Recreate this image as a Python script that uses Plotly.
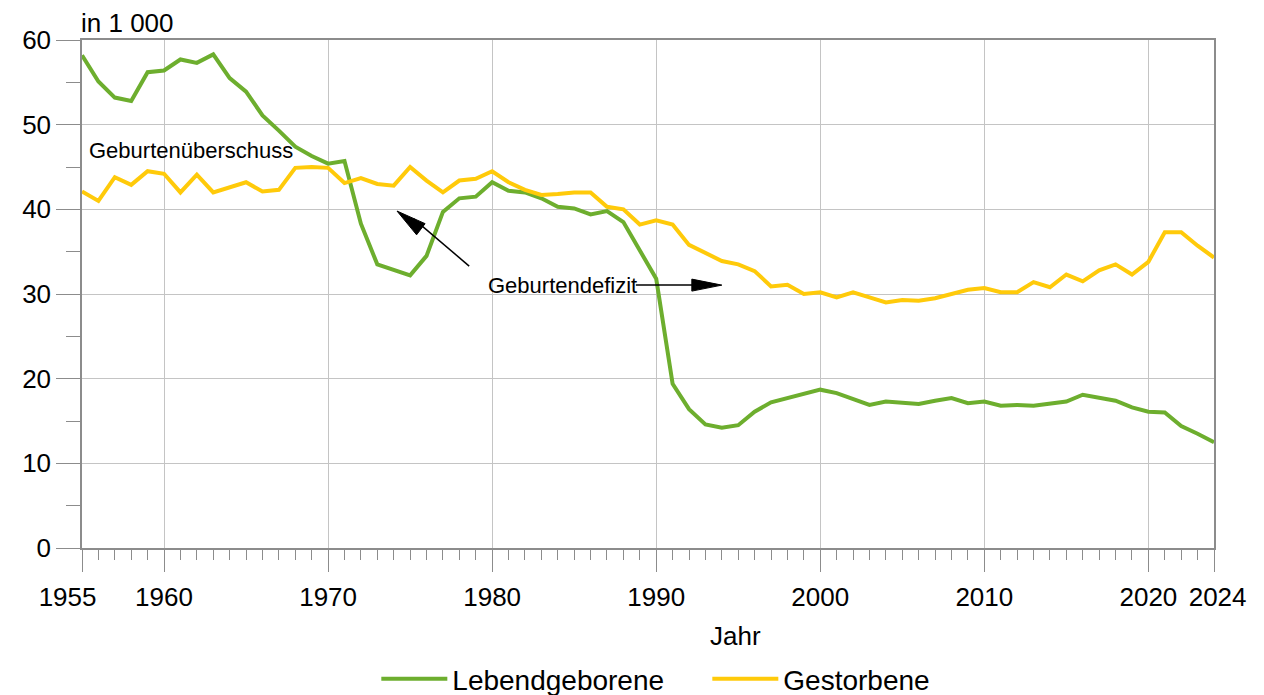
import plotly.graph_objects as go

years = list(range(1955, 2025))

lebendgeborene = [
    58.2, 55.1, 53.2, 52.8, 56.2, 56.4, 57.7, 57.3, 58.3, 55.5,
    53.9, 51.1, 49.3, 47.4, 46.3, 45.4, 45.7, 38.3, 33.5, 32.8,
    32.2, 34.5, 39.7, 41.3, 41.5, 43.2, 42.2, 42.0, 41.3, 40.3,
    40.1, 39.4, 39.8, 38.5, 35.2, 31.8, 19.4, 16.4, 14.6, 14.2,
    14.5, 16.1, 17.2, 17.7, 18.3, 18.7, 18.3, 17.6, 16.9, 17.3,
    17.2, 17.0, 17.4, 17.7, 17.1, 17.3, 16.8, 16.9, 16.8, 17.0,
    17.3, 18.1, 17.8, 17.4, 16.6, 16.1, 16.0, 14.4, 13.5, 12.5,
]

gestorbene = [
    42.1, 41.0, 43.8, 42.9, 44.5, 44.2, 42.0, 44.1, 42.0, 42.6,
    43.2, 42.1, 42.3, 44.9, 45.0, 44.9, 43.1, 43.7, 43.0, 42.8,
    45.0, 43.4, 42.0, 43.4, 43.6, 44.5, 43.2, 42.3, 41.7, 41.8,
    42.0, 42.0, 40.3, 40.0, 38.2, 38.7, 38.2, 35.8, 34.8, 33.9,
    33.5, 32.7, 30.9, 31.1, 30.0, 30.2, 29.6, 30.2, 29.6, 29.0,
    29.3, 29.2, 29.5, 30.0, 30.5, 30.7, 30.2, 30.2, 31.4, 30.8,
    32.3, 31.5, 32.8, 33.5, 32.3, 33.8, 37.3, 37.3, 35.7, 34.3,
]

x_tick_values = [1955, 1960, 1970, 1980, 1990, 2000, 2010, 2020, 2024]
x_tick_labels = ["1955\u2007\u2007", "1960", "1970", "1980", "1990", "2000", "2010",
                 "2020", "\u20082024"]
y_tick_values = [0, 10, 20, 30, 40, 50, 60]

FONT = "Liberation Sans, Arial, sans-serif"
GREEN = "#6DAE2E"
YELLOW = "#FFCA0A"
AXIS = "#8C8C8C"
GRID = "#C4C4C4"

fig = go.Figure()
fig.add_trace(go.Scatter(x=years, y=lebendgeborene, mode="lines", name="Lebendgeborene",
                         line=dict(color=GREEN, width=4)))
fig.add_trace(go.Scatter(x=years, y=gestorbene, mode="lines", name="Gestorbene",
                         line=dict(color=YELLOW, width=4)))

fig.update_layout(
    width=1256, height=687,
    margin=dict(l=74, r=50, t=32, b=147, autoexpand=False),
    paper_bgcolor="white", plot_bgcolor="white",
    font=dict(family=FONT, color="black", size=20),
    showlegend=True,
    legend=dict(orientation="h", x=0.26, xanchor="left", y=-0.258, yanchor="middle",
                font=dict(size=28, family=FONT), itemwidth=66,
                entrywidth=250, entrywidthmode="pixels", traceorder="normal"),
)

fig.update_xaxes(
    range=[1955, 2024], tickmode="array", tickvals=x_tick_values,
    ticktext=x_tick_labels, tickangle=0,
    ticks="outside", ticklen=22, tickcolor=AXIS, tickwidth=1.3,
    ticklabelstandoff=3,
    tickfont=dict(size=26, family=FONT, color="black"),
    showgrid=True, gridcolor=GRID, gridwidth=1.3,
    showline=True, linecolor=AXIS, linewidth=1.5, mirror=True,
    zeroline=False,
    minor=dict(tickmode="linear", tick0=1955, dtick=1, ticks="outside", ticklen=10,
               tickcolor=AXIS, tickwidth=1, showgrid=False),
)

fig.update_yaxes(
    range=[0, 60], tickmode="array", tickvals=y_tick_values,
    ticks="outside", ticklen=24, tickcolor=AXIS, tickwidth=1.3,
    tickfont=dict(size=26, family=FONT, color="black"),
    showgrid=True, gridcolor=GRID, gridwidth=1.3,
    showline=True, linecolor=AXIS, linewidth=1.5, mirror=True,
    zeroline=False,
    minor=dict(tickmode="linear", tick0=0, dtick=5, ticks="outside", ticklen=14,
               tickcolor=AXIS, tickwidth=1, showgrid=False),
)

annotations = [
    dict(text="in 1 000", xref="paper", yref="paper", x=-0.003, y=1, xanchor="left",
         yanchor="bottom", showarrow=False, font=dict(size=26, family=FONT)),
    dict(text="Jahr", xref="paper", yref="paper", x=0.577, y=-0.173, xanchor="center",
         yanchor="middle", showarrow=False, font=dict(size=26, family=FONT)),
    dict(text="Geburtenüberschuss", xref="x", yref="y", x=1955.3, y=47.0, xanchor="left",
         yanchor="middle", showarrow=False, font=dict(size=22, family=FONT)),
    dict(text="Geburtendefizit", xref="x", yref="y", x=1979.6, y=31.0, xanchor="left",
         yanchor="middle", showarrow=False, font=dict(size=22, family=FONT)),
]
fig.update_layout(annotations=annotations)

shapes = [
    # diagonal arrow shaft
    dict(type="line", xref="x", yref="y", x0=1978.6, y0=33.3, x1=1975.2, y1=38.9,
         line=dict(color="black", width=1.5)),
    # diagonal arrow head (pixel path relative to tip)
    dict(type="path", xref="x", yref="y", xsizemode="pixel", ysizemode="pixel",
         xanchor=1974.2, yanchor=39.8,
         path="M0,0 L28.1,-12.6 L19.6,-23.8 Z",
         fillcolor="black", line=dict(color="black", width=1)),
    # horizontal arrow shaft
    dict(type="line", xref="x", yref="y", x0=1988.76, y0=31.05, x1=1992.5, y1=31.05,
         line=dict(color="black", width=1.5)),
    # horizontal arrow head
    dict(type="path", xref="x", yref="y", xsizemode="pixel", ysizemode="pixel",
         xanchor=1994.0, yanchor=31.05,
         path="M0,0 L-30,6 L-30,-6 Z",
         fillcolor="black", line=dict(color="black", width=1)),
]
fig.update_layout(shapes=shapes)

fig.write_html("out.html")
